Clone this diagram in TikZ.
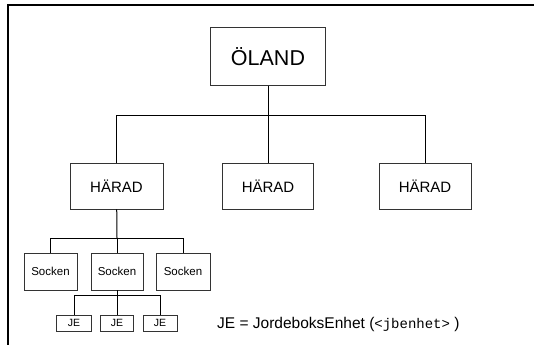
\documentclass[tikz,border=0pt]{standalone}
\usepackage{fontspec}
\setmainfont{Liberation Sans}
\setmonofont{Liberation Mono}
\usepackage{tikz}

\begin{document}
\begin{tikzpicture} [x=1pt, y=-1pt,
	box/.style = {draw = black!80, line width = 0.8pt, inner sep = 0pt},
	line/.style = {line width = 1pt}]
	%\draw [thin, help lines] (0,0) grid (534,345);
	\useasboundingbox (0,0) rectangle (534,345);
	\draw[line width = 2pt] (534,5) -- (8,5) -- (8,345);
	% top level
	\node[box, minimum width = 115pt, minimum height = 58pt, font = \fontsize{21.5}{24}\selectfont] (oland) at (268,56.5) {ÖLAND};
	\node[box, minimum width = 93pt, minimum height = 46pt, font = \fontsize{15}{17}\selectfont] (harad1) at (116.5,186) {HÄRAD};
	\node[box, minimum width = 91pt, minimum height = 46pt, font = \fontsize{15}{17}\selectfont] (harad2) at (268,186) {HÄRAD};
	\node[box, minimum width = 92pt, minimum height = 46pt, font = \fontsize{15}{17}\selectfont] (harad3) at (425,186) {HÄRAD};
	\coordinate (bus1) at (268,115);
	\draw[line] (oland) -- (bus1);
	\draw[line] (bus1) -| (harad1);
	\draw[line] (bus1) -- (harad2);
	\draw[line] (bus1) -| (harad3);
	% socknar
	\node[box, minimum width = 53pt, minimum height = 37pt, font = \fontsize{11.5}{13}\selectfont] (socken1) at (50.5,271.5) {Socken};
	\node[box, minimum width = 52pt, minimum height = 37pt, font = \fontsize{11.5}{13}\selectfont] (socken2) at (117,271.5) {Socken};
	\node[box, minimum width = 54pt, minimum height = 37pt, font = \fontsize{11.5}{13}\selectfont] (socken3) at (183,271.5) {Socken};
	\coordinate (bus2) at (117,238);
	\draw[line] (harad1) -- (bus2);
	\draw[line] (bus2) -| (socken1);
	\draw[line] (bus2) -- (socken2);
	\draw[line] (bus2) -| (socken3);
	% jordeboksenheter
	\node[box, minimum width = 35pt, minimum height = 16pt, font = \fontsize{10.5}{12}\selectfont] (je1) at (74,323) {JE};
	\node[box, minimum width = 33pt, minimum height = 16pt, font = \fontsize{10.5}{12}\selectfont] (je2) at (117,323) {JE};
	\node[box, minimum width = 34pt, minimum height = 16pt, font = \fontsize{10.5}{12}\selectfont] (je3) at (160,323) {JE};
	\coordinate (bus3) at (117,295);
	\draw[line] (socken2) -- (bus3);
	\draw[line] (bus3) -| (je1);
	\draw[line] (bus3) -- (je2);
	\draw[line] (bus3) -| (je3);
	\node[anchor = west, inner sep = 0pt, font = \fontsize{15.5}{18}\selectfont] (legend) at (217,324) {JE = JordeboksEnhet ({\ttfamily\fontsize{14}{16}\selectfont <jbenhet>} )};
\end{tikzpicture}
\end{document}
